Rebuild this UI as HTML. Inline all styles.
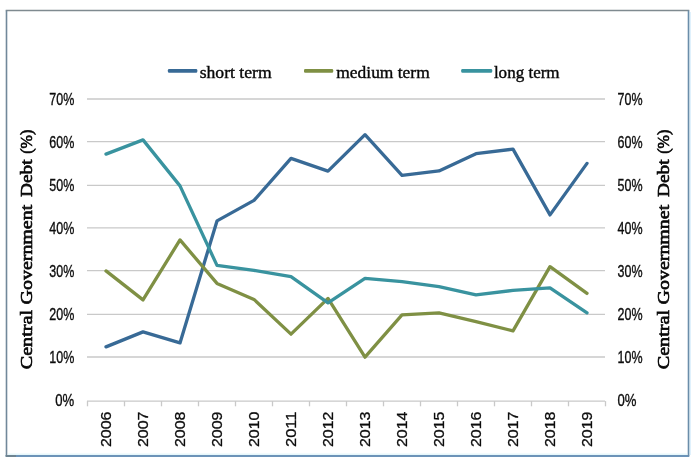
<!DOCTYPE html>
<html><head><meta charset="utf-8"><title>chart</title>
<style>
html,body{margin:0;padding:0;background:#ffffff;}
body{width:696px;height:464px;overflow:hidden;font-family:"Liberation Sans",sans-serif;}
svg{display:block;}
text{filter:grayscale(1);}
.tick{font-family:"Liberation Sans",sans-serif;font-size:16.5px;fill:#0c0c0c;stroke:#0c0c0c;stroke-width:0.35px;}
.yr{font-family:"Liberation Sans",sans-serif;font-size:14.5px;fill:#0c0c0c;stroke:#0c0c0c;stroke-width:0.3px;}
.leg{font-family:"Liberation Serif",serif;font-size:17.5px;fill:#080808;stroke:#080808;stroke-width:0.4px;}
.ttl{font-family:"Liberation Serif",serif;font-size:17.5px;font-weight:normal;fill:#080808;stroke:#080808;stroke-width:0.65px;}
</style></head><body>
<svg width="696" height="464" viewBox="0 0 696 464">
<rect x="0" y="0" width="696" height="464" fill="#ffffff"/>

<g fill="none" stroke-width="1.6">
<line x1="690.1" y1="12" x2="690.1" y2="455" stroke="#d9eefb" stroke-width="1.4"/>
<line x1="8" y1="454.2" x2="687" y2="454.2" stroke="#e6f7fb" stroke-width="1.4"/>
<line x1="5.7" y1="10.5" x2="689.3" y2="10.5" stroke="#7f8a90"/>
<line x1="6.5" y1="10.5" x2="6.5" y2="456" stroke="#71889a"/>
<line x1="5.7" y1="456" x2="689.3" y2="456" stroke="#6c93b8" stroke-width="1.9"/>
<line x1="5.7" y1="456" x2="16" y2="456" stroke="#70838f" stroke-width="1.9"/>
<line x1="688.5" y1="10.5" x2="688.5" y2="456" stroke="#6a8da9"/>
</g>
<g stroke="#c9c9c9" stroke-width="1.3">
<line x1="87" y1="401.10" x2="605" y2="401.10"/>
<line x1="87" y1="357.00" x2="605" y2="357.00"/>
<line x1="87" y1="314.40" x2="605" y2="314.40"/>
<line x1="87" y1="270.55" x2="605" y2="270.55"/>
<line x1="87" y1="227.95" x2="605" y2="227.95"/>
<line x1="87" y1="185.40" x2="605" y2="185.40"/>
<line x1="87" y1="141.55" x2="605" y2="141.55"/>
<line x1="87" y1="99.00" x2="605" y2="99.00"/>
<line x1="87.5" y1="401.1" x2="87.5" y2="406.3"/>
<line x1="124.5" y1="401.1" x2="124.5" y2="406.3"/>
<line x1="161.5" y1="401.1" x2="161.5" y2="406.3"/>
<line x1="198.5" y1="401.1" x2="198.5" y2="406.3"/>
<line x1="235.5" y1="401.1" x2="235.5" y2="406.3"/>
<line x1="272.5" y1="401.1" x2="272.5" y2="406.3"/>
<line x1="309.5" y1="401.1" x2="309.5" y2="406.3"/>
<line x1="346.5" y1="401.1" x2="346.5" y2="406.3"/>
<line x1="383.5" y1="401.1" x2="383.5" y2="406.3"/>
<line x1="420.5" y1="401.1" x2="420.5" y2="406.3"/>
<line x1="457.5" y1="401.1" x2="457.5" y2="406.3"/>
<line x1="494.5" y1="401.1" x2="494.5" y2="406.3"/>
<line x1="531.5" y1="401.1" x2="531.5" y2="406.3"/>
<line x1="568.5" y1="401.1" x2="568.5" y2="406.3"/>
<line x1="605.5" y1="401.1" x2="605.5" y2="406.3"/>
</g>
<text class="tick" x="74.3" y="405.7" text-anchor="end" textLength="19" lengthAdjust="spacingAndGlyphs">0%</text>
<text class="tick" x="617.5" y="405.7" textLength="19" lengthAdjust="spacingAndGlyphs">0%</text>
<text class="tick" x="74.3" y="362.8" text-anchor="end" textLength="25" lengthAdjust="spacingAndGlyphs">10%</text>
<text class="tick" x="617.5" y="362.8" textLength="25" lengthAdjust="spacingAndGlyphs">10%</text>
<text class="tick" x="74.3" y="319.9" text-anchor="end" textLength="25" lengthAdjust="spacingAndGlyphs">20%</text>
<text class="tick" x="617.5" y="319.9" textLength="25" lengthAdjust="spacingAndGlyphs">20%</text>
<text class="tick" x="74.3" y="277.0" text-anchor="end" textLength="25" lengthAdjust="spacingAndGlyphs">30%</text>
<text class="tick" x="617.5" y="277.0" textLength="25" lengthAdjust="spacingAndGlyphs">30%</text>
<text class="tick" x="74.3" y="234.1" text-anchor="end" textLength="25" lengthAdjust="spacingAndGlyphs">40%</text>
<text class="tick" x="617.5" y="234.1" textLength="25" lengthAdjust="spacingAndGlyphs">40%</text>
<text class="tick" x="74.3" y="191.2" text-anchor="end" textLength="25" lengthAdjust="spacingAndGlyphs">50%</text>
<text class="tick" x="617.5" y="191.2" textLength="25" lengthAdjust="spacingAndGlyphs">50%</text>
<text class="tick" x="74.3" y="148.3" text-anchor="end" textLength="25" lengthAdjust="spacingAndGlyphs">60%</text>
<text class="tick" x="617.5" y="148.3" textLength="25" lengthAdjust="spacingAndGlyphs">60%</text>
<text class="tick" x="74.3" y="105.4" text-anchor="end" textLength="25" lengthAdjust="spacingAndGlyphs">70%</text>
<text class="tick" x="617.5" y="105.4" textLength="25" lengthAdjust="spacingAndGlyphs">70%</text>
<text class="yr" transform="translate(110.8,447.0) rotate(-90)" textLength="35.5" lengthAdjust="spacingAndGlyphs">2006</text>
<text class="yr" transform="translate(147.8,447.0) rotate(-90)" textLength="35.5" lengthAdjust="spacingAndGlyphs">2007</text>
<text class="yr" transform="translate(184.8,447.0) rotate(-90)" textLength="35.5" lengthAdjust="spacingAndGlyphs">2008</text>
<text class="yr" transform="translate(221.8,447.0) rotate(-90)" textLength="35.5" lengthAdjust="spacingAndGlyphs">2009</text>
<text class="yr" transform="translate(258.8,447.0) rotate(-90)" textLength="35.5" lengthAdjust="spacingAndGlyphs">2010</text>
<text class="yr" transform="translate(295.8,447.0) rotate(-90)" textLength="35.5" lengthAdjust="spacingAndGlyphs">2011</text>
<text class="yr" transform="translate(332.8,447.0) rotate(-90)" textLength="35.5" lengthAdjust="spacingAndGlyphs">2012</text>
<text class="yr" transform="translate(369.8,447.0) rotate(-90)" textLength="35.5" lengthAdjust="spacingAndGlyphs">2013</text>
<text class="yr" transform="translate(406.8,447.0) rotate(-90)" textLength="35.5" lengthAdjust="spacingAndGlyphs">2014</text>
<text class="yr" transform="translate(443.8,447.0) rotate(-90)" textLength="35.5" lengthAdjust="spacingAndGlyphs">2015</text>
<text class="yr" transform="translate(480.8,447.0) rotate(-90)" textLength="35.5" lengthAdjust="spacingAndGlyphs">2016</text>
<text class="yr" transform="translate(517.8,447.0) rotate(-90)" textLength="35.5" lengthAdjust="spacingAndGlyphs">2017</text>
<text class="yr" transform="translate(554.8,447.0) rotate(-90)" textLength="35.5" lengthAdjust="spacingAndGlyphs">2018</text>
<text class="yr" transform="translate(591.8,447.0) rotate(-90)" textLength="35.5" lengthAdjust="spacingAndGlyphs">2019</text>
<polyline fill="none" stroke="#386a96" stroke-width="3.3" stroke-linejoin="round" stroke-linecap="round" points="106.0,346.90 143.0,331.90 180.0,342.90 217.0,220.90 254.0,200.40 291.0,158.40 328.0,171.15 365.0,134.65 402.0,175.40 439.0,170.90 476.0,153.65 513.0,149.15 550.0,214.90 587.0,163.40"/>
<polyline fill="none" stroke="#7f9044" stroke-width="3.3" stroke-linejoin="round" stroke-linecap="round" points="106.0,270.90 143.0,299.90 180.0,239.90 217.0,283.40 254.0,299.40 291.0,334.15 328.0,298.40 365.0,357.15 402.0,314.90 439.0,312.90 476.0,321.65 513.0,330.90 550.0,266.65 587.0,293.40"/>
<polyline fill="none" stroke="#39939f" stroke-width="3.3" stroke-linejoin="round" stroke-linecap="round" points="106.0,154.15 143.0,139.90 180.0,185.90 217.0,265.40 254.0,270.40 291.0,276.65 328.0,302.90 365.0,278.40 402.0,281.65 439.0,286.65 476.0,294.90 513.0,290.40 550.0,287.90 587.0,312.90"/>
<rect x="167.9" y="69.1" width="29.4" height="3.6" rx="1.2" fill="#386a96"/>
<text class="leg" x="199.7" y="78" textLength="72" lengthAdjust="spacingAndGlyphs">short term</text>
<rect x="304" y="69.1" width="29.2" height="3.6" rx="1.2" fill="#7f9044"/>
<text class="leg" x="336.3" y="78" textLength="93.4" lengthAdjust="spacingAndGlyphs">medium term</text>
<rect x="461.2" y="69.1" width="31.0" height="3.6" rx="1.2" fill="#39939f"/>
<text class="leg" x="493.9" y="78" textLength="65.7" lengthAdjust="spacingAndGlyphs">long term</text>
<text class="ttl" transform="translate(32.0,369.3) rotate(-90)" textLength="59.3" lengthAdjust="spacingAndGlyphs">Central</text>
<text class="ttl" transform="translate(32.0,304.4) rotate(-90)" textLength="99.6" lengthAdjust="spacingAndGlyphs">Government</text>
<text class="ttl" transform="translate(32.0,196.9) rotate(-90)" textLength="37.5" lengthAdjust="spacingAndGlyphs">Debt</text>
<text class="ttl" transform="translate(32.0,153.8) rotate(-90)" textLength="24.1" lengthAdjust="spacingAndGlyphs">(%)</text>
<text class="ttl" transform="translate(668.7,369.3) rotate(-90)" textLength="59.3" lengthAdjust="spacingAndGlyphs">Central</text>
<text class="ttl" transform="translate(668.7,304.4) rotate(-90)" textLength="99.6" lengthAdjust="spacingAndGlyphs">Governmnet</text>
<text class="ttl" transform="translate(668.7,196.9) rotate(-90)" textLength="37.5" lengthAdjust="spacingAndGlyphs">Debt</text>
<text class="ttl" transform="translate(668.7,153.8) rotate(-90)" textLength="24.1" lengthAdjust="spacingAndGlyphs">(%)</text>
</svg></body></html>
